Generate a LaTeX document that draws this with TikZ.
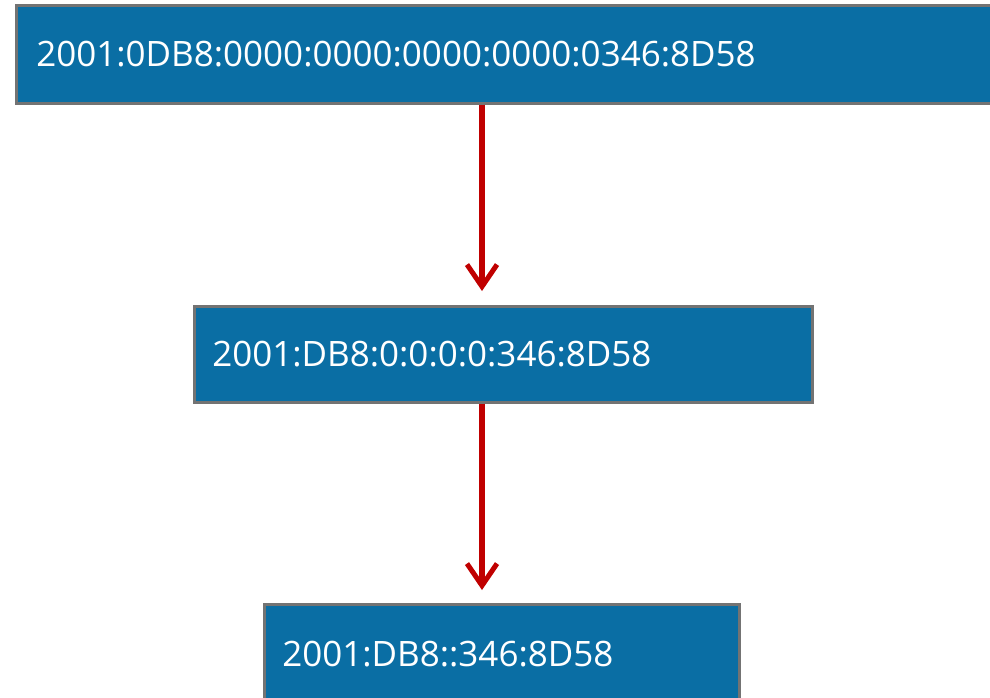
\documentclass[tikz,border=0pt]{standalone}
\usepackage{fontspec}
\setmainfont{Open Sans}
\usepackage{xcolor}
\usepackage{tikz}
\usetikzlibrary{positioning,arrows.meta,calc}

\definecolor{boxblue}{RGB}{10,110,164}
\definecolor{boxedge}{RGB}{115,115,115}
\definecolor{arrowred}{RGB}{192,0,0}

\begin{document}
\begin{tikzpicture}[
    x=1pt, y=-1pt,
    addrbox/.style={rectangle, draw=boxedge, line width=2.5pt, fill=boxblue,
                    anchor=north west, inner xsep=18pt, text=white,
                    font=\fontsize{35}{41}\selectfont, align=left},
    arrow/.style={-{Straight Barb[length=22pt,width=30pt,line width=5pt]},
                  draw=arrowred, line width=5.5pt},
]
\useasboundingbox (0,0) rectangle (990,697);
\clip (0,0) rectangle (990,697);

% Address boxes, full form down to shortest form
\node[addrbox, minimum width=990pt, minimum height=98pt, text width=950pt] (full) at (15,4)
    {2001:0DB8:0000:0000:0000:0000:0346:8D58};
\node[addrbox, minimum width=618pt, minimum height=96pt, text width=582pt] (nozero) at (193,305)
    {2001:DB8:0:0:0:0:346:8D58};
\node[addrbox, minimum width=475pt, minimum height=100pt, text width=439pt] (short) at (263,603)
    {2001:DB8::346:8D58};

% Arrows
\coordinate (axis) at (482,0);
\draw[arrow, shorten >=14pt] (axis |- full.south) -- (axis |- nozero.north);
\draw[arrow, shorten >=13pt] (axis |- nozero.south) -- (axis |- short.north);

\end{tikzpicture}
\end{document}
